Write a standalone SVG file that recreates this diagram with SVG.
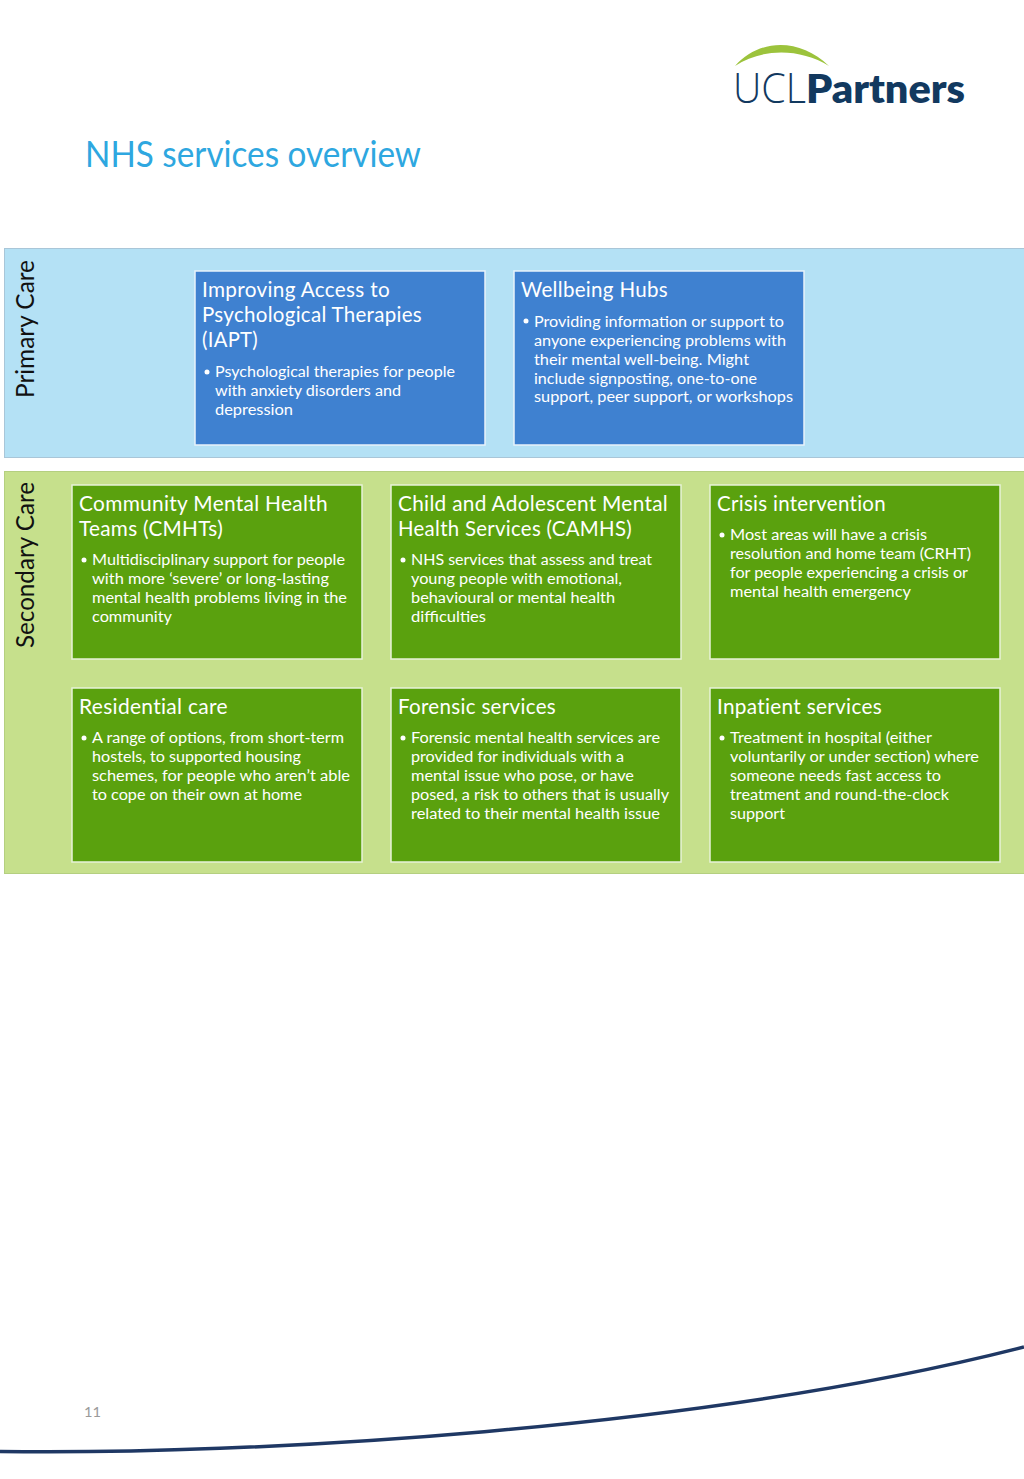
<svg xmlns="http://www.w3.org/2000/svg" width="1024" height="1479" viewBox="0 0 1024 1479">
<style>
text{font-family:Lato,"Open Sans","Liberation Sans",sans-serif}
.h{font-size:20.500px;fill:#fff;letter-spacing:.3px}
.b{font-size:15.500px;fill:#fff}
.blue{fill:#3f81d0;stroke:#e8f2fa;stroke-width:1.500}
.green{fill:#5aa10e;stroke:#e8f2d8;stroke-width:1.500}
.side{font-size:25px;fill:#111}
</style>
<rect width="1024" height="1479" fill="#fff"/>
<g id="logo">
<path d="M735 66 C760 38 800 38 829 66 C800 48 762 48 735 66Z" fill="#9cc33c"/>
<text x="733" y="103" font-size="42" fill="#12395f" textLength="73" lengthAdjust="spacingAndGlyphs" style="font-family:'Open Sans';font-weight:300">UCL</text>
<text x="806" y="103" font-size="39" font-weight="800" fill="#12395f" textLength="159" lengthAdjust="spacingAndGlyphs">Partners</text>
</g>
<text id="title" x="85" y="167" font-size="36" fill="#2ea7e0" textLength="336" lengthAdjust="spacingAndGlyphs">NHS services overview</text>
<g id="primary-care">
<rect x="4.500" y="248.500" width="1020" height="209" fill="#b4e1f5" stroke="#a9c6d8"/>
<text class="side" transform="translate(34 398) rotate(-90)" textLength="138" lengthAdjust="spacingAndGlyphs">Primary Care</text>
</g>
<g id="secondary-care">
<rect x="4.500" y="471.500" width="1020" height="402" fill="#c6e08c" stroke="#b4cf80"/>
<text class="side" transform="translate(34 648) rotate(-90)" textLength="166" lengthAdjust="spacingAndGlyphs">Secondary Care</text>
</g>
<g id="iapt">
<rect class="blue" x="195" y="271" width="290" height="174"/>
<text class="h" x="202" y="297" textLength="188" lengthAdjust="spacingAndGlyphs">Improving Access to</text>
<text class="h" x="202" y="322" textLength="220" lengthAdjust="spacingAndGlyphs">Psychological Therapies</text>
<text class="h" x="202" y="347" textLength="56" lengthAdjust="spacingAndGlyphs">(IAPT)</text>
<circle cx="207" cy="372" r="2.500" fill="#fff"/>
<text class="b" x="215" y="377" textLength="240" lengthAdjust="spacingAndGlyphs">Psychological therapies for people</text>
<text class="b" x="215" y="396" textLength="186" lengthAdjust="spacingAndGlyphs">with anxiety disorders and</text>
<text class="b" x="215" y="415" textLength="78" lengthAdjust="spacingAndGlyphs">depression</text>
</g>
<g id="wellbeing">
<rect class="blue" x="514" y="271" width="290" height="174"/>
<text class="h" x="521" y="297" textLength="147" lengthAdjust="spacingAndGlyphs">Wellbeing Hubs</text>
<circle cx="526" cy="321" r="2.500" fill="#fff"/>
<text class="b" x="534" y="327" textLength="250" lengthAdjust="spacingAndGlyphs">Providing information or support to</text>
<text class="b" x="534" y="346" textLength="252" lengthAdjust="spacingAndGlyphs">anyone experiencing problems with</text>
<text class="b" x="534" y="365" textLength="215" lengthAdjust="spacingAndGlyphs">their mental well-being. Might</text>
<text class="b" x="534" y="384" textLength="223" lengthAdjust="spacingAndGlyphs">include signposting, one-to-one</text>
<text class="b" x="534" y="402" textLength="259" lengthAdjust="spacingAndGlyphs">support, peer support, or workshops</text>
</g>
<g id="cmht">
<rect class="green" x="72" y="485" width="290" height="174"/>
<text class="h" x="79" y="511" textLength="249" lengthAdjust="spacingAndGlyphs">Community Mental Health</text>
<text class="h" x="79" y="536" textLength="144" lengthAdjust="spacingAndGlyphs">Teams (CMHTs)</text>
<circle cx="84" cy="560" r="2.500" fill="#fff"/>
<text class="b" x="92" y="565" textLength="253" lengthAdjust="spacingAndGlyphs">Multidisciplinary support for people</text>
<text class="b" x="92" y="584" textLength="237" lengthAdjust="spacingAndGlyphs">with more ‘severe’ or long-lasting</text>
<text class="b" x="92" y="603" textLength="255" lengthAdjust="spacingAndGlyphs">mental health problems living in the</text>
<text class="b" x="92" y="622" textLength="80" lengthAdjust="spacingAndGlyphs">community</text>
</g>
<g id="camhs">
<rect class="green" x="391" y="485" width="290" height="174"/>
<text class="h" x="398" y="511" textLength="270" lengthAdjust="spacingAndGlyphs">Child and Adolescent Mental</text>
<text class="h" x="398" y="536" textLength="234" lengthAdjust="spacingAndGlyphs">Health Services (CAMHS)</text>
<circle cx="403" cy="560" r="2.500" fill="#fff"/>
<text class="b" x="411" y="565" textLength="241" lengthAdjust="spacingAndGlyphs">NHS services that assess and treat</text>
<text class="b" x="411" y="584" textLength="211" lengthAdjust="spacingAndGlyphs">young people with emotional,</text>
<text class="b" x="411" y="603" textLength="204" lengthAdjust="spacingAndGlyphs">behavioural or mental health</text>
<text class="b" x="411" y="622" textLength="75" lengthAdjust="spacingAndGlyphs">difficulties</text>
</g>
<g id="crisis">
<rect class="green" x="710" y="485" width="290" height="174"/>
<text class="h" x="717" y="511" textLength="169" lengthAdjust="spacingAndGlyphs">Crisis intervention</text>
<circle cx="722" cy="535" r="2.500" fill="#fff"/>
<text class="b" x="730" y="540" textLength="197" lengthAdjust="spacingAndGlyphs">Most areas will have a crisis</text>
<text class="b" x="730" y="559" textLength="241" lengthAdjust="spacingAndGlyphs">resolution and home team (CRHT)</text>
<text class="b" x="730" y="578" textLength="238" lengthAdjust="spacingAndGlyphs">for people experiencing a crisis or</text>
<text class="b" x="730" y="597" textLength="181" lengthAdjust="spacingAndGlyphs">mental health emergency</text>
</g>
<g id="residential">
<rect class="green" x="72" y="688" width="290" height="174"/>
<text class="h" x="79" y="714" textLength="149" lengthAdjust="spacingAndGlyphs">Residential care</text>
<circle cx="84" cy="738" r="2.500" fill="#fff"/>
<text class="b" x="92" y="743" textLength="252" lengthAdjust="spacingAndGlyphs">A range of options, from short-term</text>
<text class="b" x="92" y="762" textLength="209" lengthAdjust="spacingAndGlyphs">hostels, to supported housing</text>
<text class="b" x="92" y="781" textLength="258" lengthAdjust="spacingAndGlyphs">schemes, for people who aren’t able</text>
<text class="b" x="92" y="800" textLength="210" lengthAdjust="spacingAndGlyphs">to cope on their own at home</text>
</g>
<g id="forensic">
<rect class="green" x="391" y="688" width="290" height="174"/>
<text class="h" x="398" y="714" textLength="158" lengthAdjust="spacingAndGlyphs">Forensic services</text>
<circle cx="403" cy="738" r="2.500" fill="#fff"/>
<text class="b" x="411" y="743" textLength="249" lengthAdjust="spacingAndGlyphs">Forensic mental health services are</text>
<text class="b" x="411" y="762" textLength="213" lengthAdjust="spacingAndGlyphs">provided for individuals with a</text>
<text class="b" x="411" y="781" textLength="223" lengthAdjust="spacingAndGlyphs">mental issue who pose, or have</text>
<text class="b" x="411" y="800" textLength="258" lengthAdjust="spacingAndGlyphs">posed, a risk to others that is usually</text>
<text class="b" x="411" y="819" textLength="249" lengthAdjust="spacingAndGlyphs">related to their mental health issue</text>
</g>
<g id="inpatient">
<rect class="green" x="710" y="688" width="290" height="174"/>
<text class="h" x="717" y="714" textLength="165" lengthAdjust="spacingAndGlyphs">Inpatient services</text>
<circle cx="722" cy="738" r="2.500" fill="#fff"/>
<text class="b" x="730" y="743" textLength="202" lengthAdjust="spacingAndGlyphs">Treatment in hospital (either</text>
<text class="b" x="730" y="762" textLength="249" lengthAdjust="spacingAndGlyphs">voluntarily or under section) where</text>
<text class="b" x="730" y="781" textLength="211" lengthAdjust="spacingAndGlyphs">someone needs fast access to</text>
<text class="b" x="730" y="800" textLength="219" lengthAdjust="spacingAndGlyphs">treatment and round-the-clock</text>
<text class="b" x="730" y="819" textLength="55" lengthAdjust="spacingAndGlyphs">support</text>
</g>
<text id="page" x="84" y="1417" font-size="14" fill="#9a9a9a" textLength="17" lengthAdjust="spacingAndGlyphs">11</text>
<path id="swoosh" d="M0 1451.500 C250 1455 700 1430 1024 1347" fill="none" stroke="#1f3864" stroke-width="3.500"/>
</svg>
